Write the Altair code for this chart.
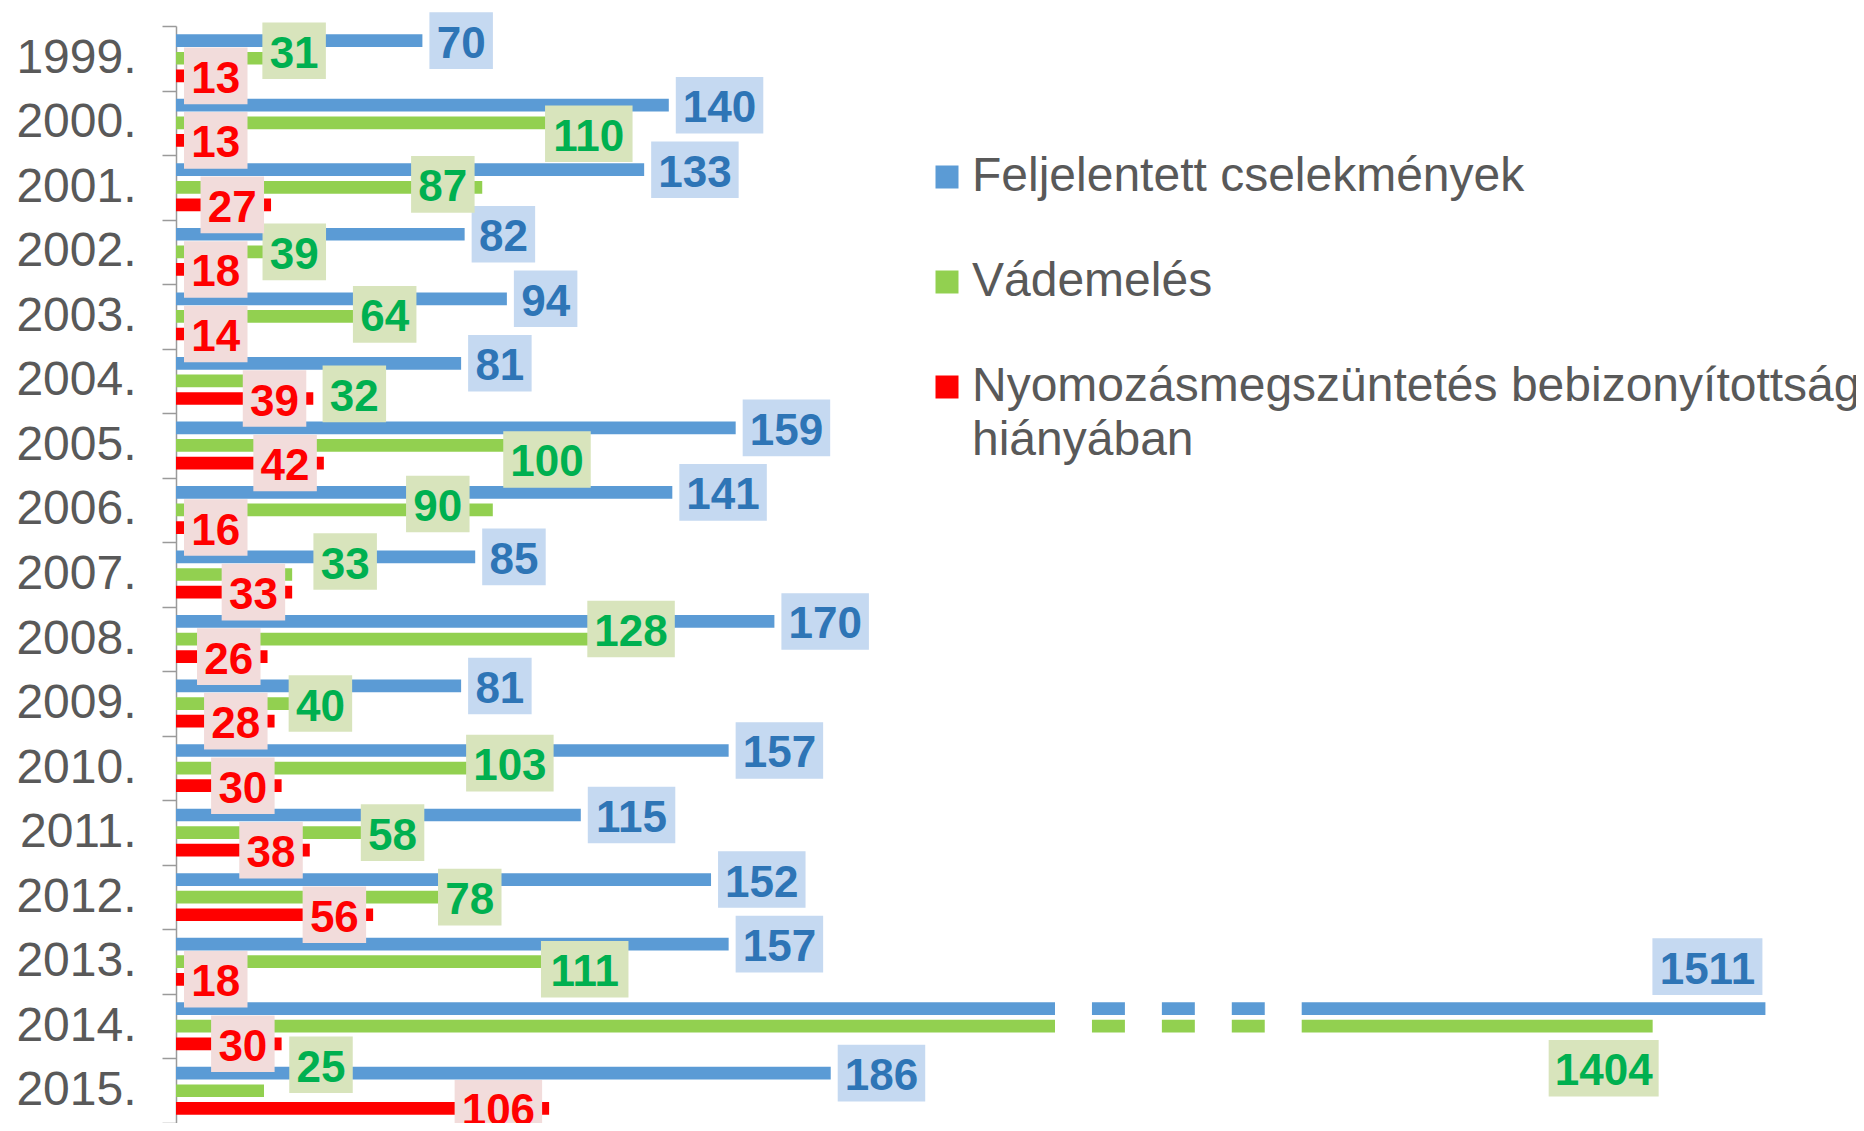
import altair as alt
import pandas as pd
import numpy as np

# ---------------- data ----------------
YEARS = [f"{y}." for y in range(1999, 2016)]
SERIES = [
    "Feljelentett cselekmények",
    "Vádemelés",
    "Nyomozásmegszüntetés bebizonyítottság hiányában",
]
REPORTED = [70, 140, 133, 82, 94, 81, 159, 141, 85, 170, 81, 157, 115, 152, 157, 1511, 186]
INDICTED = [31, 110, 87, 39, 64, 32, 100, 90, 33, 128, 40, 103, 58, 78, 111, 1404, 25]
TERMINATED = [13, 13, 27, 18, 14, 39, 42, 16, 33, 26, 28, 30, 38, 56, 18, 30, 106]
VALUES = [REPORTED, INDICTED, TERMINATED]

# ---------------- style ----------------
BAR_COLORS = ["#5B9BD5", "#92D050", "#FF0000"]
TEXT_COLORS = ["#2E75B6", "#00B050", "#FF0000"]
BOX_COLORS = ["#C5D9F1", "#D8E4BC", "#F2DCDB"]
FONT = "Liberation Sans"
GRAY = "#595959"

PAD_L, PAD_T, PAD_R, PAD_B = 168, 18, 8, 0
PLOT_W, PLOT_H = 1672, 1097
BAND = PLOT_H / len(YEARS)
PI, PO = 0.278, 0.4725
SLOT = BAND / (3 - PI + 2 * PO)

# broken x axis (piecewise linear scale)
X_DOMAIN = [0, 250, 1070, 1600]
X_RANGE = [0, 880, 1124.7, 1683.2]
BREAK_LO, BREAK_HI, BREAK_SEGS = 250, 1070, 7


def xpx(v):
    return float(np.interp(v, X_DOMAIN, X_RANGE))


# label box sizes by digit count (half width, half height) in px
BOX_HW = {2: 31.75, 3: 43.75, 4: 55.0}
BOX_HH = 28.3
SYM_R = 60.0  # custom symbol half-extent for size = (2R)^2
SYM_SIZE = (2 * SYM_R) ** 2

# manual label nudges (px) like in the original
GREEN_DX = [9, 25.6, -39.4, -19, -16.6, 65.7, 19, -55, 53, 4.5, 3.6, -28.7, 12.4, 19.2, 18, -49, 57]
GREEN_DY = [-7.5, 11, -3, 0, -2, 13, 14, -6, -13, -10, 0, -5, 0, 0, 7.6, 42, -26]
BLUE_NUDGE = {"2014.": (-58, -42)}


def box_path(hw):
    a, b = hw / SYM_R, BOX_HH / SYM_R
    return f"M{-a:.4f},{-b:.4f}L{a:.4f},{-b:.4f}L{a:.4f},{b:.4f}L{-a:.4f},{b:.4f}Z"


# ---------------- tables ----------------
bar_rows = []
for j, s in enumerate(SERIES):
    for i, y in enumerate(YEARS):
        bar_rows.append({"year": y, "series": s, "value": VALUES[j][i]})
bars_df = pd.DataFrame(bar_rows)

# white gaps of the axis break on the two long 2014 bars
seg = (BREAK_HI - BREAK_LO) / BREAK_SEGS
gap_rows = []
for s in SERIES[:2]:
    for k in range(0, BREAK_SEGS, 2):
        gap_rows.append({"year": "2014.", "series": s,
                         "lo": BREAK_LO + k * seg, "hi": BREAK_LO + (k + 1) * seg})
gaps_df = pd.DataFrame(gap_rows)

label_rows = []
for j, s in enumerate(SERIES):
    for i, y in enumerate(YEARS):
        v = VALUES[j][i]
        nd = len(str(v))
        hw = BOX_HW[nd]
        if j == 0:
            dx, dy = BLUE_NUDGE.get(y, (7 + hw, 0))
        elif j == 1:
            dx, dy = GREEN_DX[i], GREEN_DY[i]
        else:
            dx, dy = max(-7 - hw, 8 + hw - xpx(v)), 0
        label_rows.append({
            "year": y, "series": s, "value": v, "text": str(v),
            "dx": dx, "dy": (j - 1) * SLOT + dy,
            "shape": box_path(hw),
            "tcolor": TEXT_COLORS[j], "bcolor": BOX_COLORS[j],
        })
labels_df = pd.DataFrame(label_rows)

# ---------------- encodings ----------------
x_scale = alt.Scale(domain=X_DOMAIN, range=X_RANGE, nice=False, zero=False)
y_enc = alt.Y(
    "year:N", sort=YEARS,
    scale=alt.Scale(domain=YEARS, paddingInner=0, paddingOuter=0),
    axis=alt.Axis(
        title=None, tickBand="extent", tickSize=14, tickWidth=1.5, tickColor="#9A9A9A",
        domainColor="#9A9A9A", domainWidth=1.5, labelFont=FONT, labelFontSize=48,
        labelColor=GRAY, labelPadding=26, grid=False,
    ),
)
yoff_enc = alt.YOffset(
    "series:N", sort=SERIES,
    scale=alt.Scale(domain=SERIES, paddingInner=PI, paddingOuter=PO),
)

split_expr = (
    "datum.label == '" + SERIES[2] + "' ? "
    "['Nyomozásmegszüntetés bebizonyítottság', 'hiányában'] : datum.label"
)

bars = alt.Chart(bars_df).mark_bar().encode(
    x=alt.X("value:Q", scale=x_scale, axis=None),
    y=y_enc,
    yOffset=yoff_enc,
    color=alt.Color(
        "series:N", sort=SERIES,
        scale=alt.Scale(domain=SERIES, range=BAR_COLORS),
        legend=alt.Legend(
            orient="none", legendX=747, legendY=127, title=None,
            symbolType="square", symbolSize=529, symbolStrokeWidth=0, symbolOpacity=1,
            labelFont=FONT, labelFontSize=48, labelColor=GRAY, labelLimit=1400,
            labelOffset=1, rowPadding=57, padding=0, labelExpr=split_expr,
        ),
    ),
)

gaps = alt.Chart(gaps_df).mark_bar(color="white", stroke="white", strokeWidth=2).encode(
    x=alt.X("lo:Q", scale=x_scale, axis=None),
    x2="hi:Q",
    y=y_enc,
    yOffset=yoff_enc,
)

layers = [bars, gaps]
for s in SERIES:
    sub = labels_df[labels_df.series == s]
    boxes = alt.Chart(sub).mark_point(
        filled=True, size=SYM_SIZE, opacity=1, strokeWidth=0,
        xOffset={"expr": "datum.dx"}, yOffset={"expr": "datum.dy"},
    ).encode(
        x=alt.X("value:Q", scale=x_scale, axis=None),
        y=y_enc,
        shape=alt.Shape("shape:N", scale=None, legend=None),
        color=alt.Color("bcolor:N", scale=None, legend=None),
    )
    texts = alt.Chart(sub).mark_text(
        font=FONT, fontSize=44, fontWeight="bold", align="center", baseline="middle",
        dy=4, xOffset={"expr": "datum.dx"}, yOffset={"expr": "datum.dy"},
    ).encode(
        x=alt.X("value:Q", scale=x_scale, axis=None),
        y=y_enc,
        text="text:N",
        color=alt.Color("tcolor:N", scale=None, legend=None),
    )
    layers += [boxes, texts]

chart = alt.layer(*layers).resolve_scale(color="independent", shape="independent").properties(
    width=PLOT_W, height=PLOT_H,
    padding={"left": PAD_L, "top": PAD_T, "right": PAD_R, "bottom": PAD_B},
    autosize=alt.AutoSizeParams(type="none"),
    background="white",
).configure(
    style={"guide-label": {"lineHeight": 54}},
    view=alt.ViewConfig(stroke=None),
)

chart.save("out.html", embed_options={"renderer": "svg", "actions": False})
